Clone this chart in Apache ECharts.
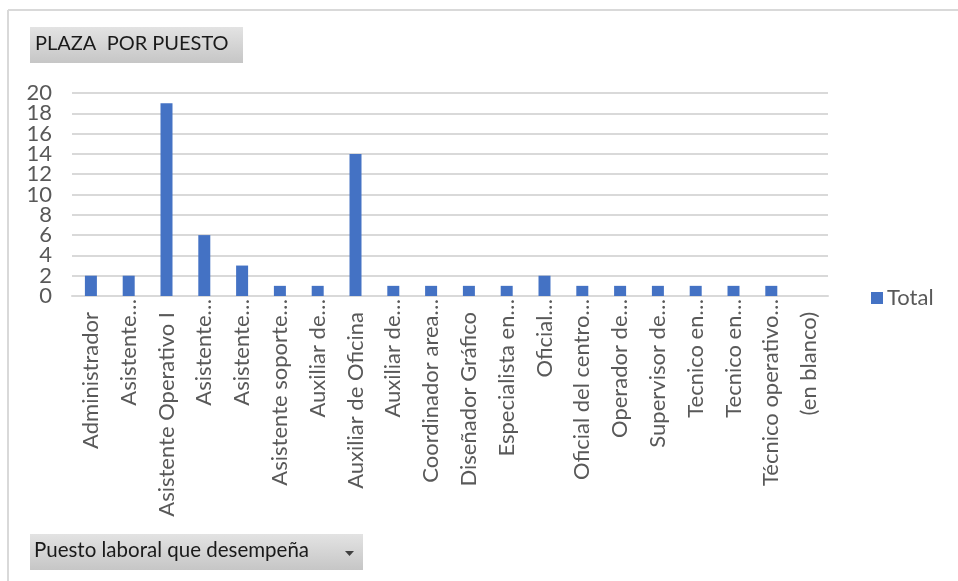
<!DOCTYPE html>
<html>
<head>
<meta charset="utf-8">
<script src="https://cdn.jsdelivr.net/npm/echarts@6/dist/echarts.min.js"></script>
<style>
  html, body { margin: 0; padding: 0; background: #ffffff; }
  #chart { width: 958px; height: 581px; }
</style>
</head>
<body>
<div id="chart"></div>
<script>
// Job positions (labels as shown, truncated where long)
const categories = [
  'Administrador', 'Asistente…', 'Asistente Operativo I', 'Asistente…', 'Asistente…',
  'Asistente soporte…', 'Auxiliar de…', 'Auxiliar de Oficina', 'Auxiliar de…', 'Coordinador area…',
  'Diseñador Gráfico', 'Especialista en…', 'Oficial…', 'Oficial del centro…', 'Operador de…',
  'Supervisor de…', 'Tecnico en…', 'Tecnico en…', 'Técnico operativo…', '(en blanco)'
];
// Number of positions per job
const totals = [2, 2, 19, 6, 3, 1, 1, 14, 1, 1, 1, 1, 2, 1, 1, 1, 1, 1, 1, 0];
const yTicks = { min: 0, max: 20, interval: 2 };

const FONT = 'Lato';
const TEXT = '#595959';

// Untruncated labels sit a little further from the axis than the ones ending in "…"
const categoryItems = categories.map(name => ({
  value: name,
  textStyle: { padding: name.endsWith('…') ? [0, 0, 0, 0] : [0, 13, 0, 0] }
}));

const buttonFill = new echarts.graphic.LinearGradient(0, 0, 0, 1, [
  { offset: 0, color: '#e3e3e3' },
  { offset: 1, color: '#c6c6c6' }
]);

// The tick labels are tall enough to touch each other, so they are split over two
// stacked value axes (multiples of 4 on one, the rest on the other) to keep all visible.
function valueAxis(showRemainder, withGrid) {
  return {
    type: 'value',
    position: 'left',
    offset: 0,
    min: yTicks.min, max: yTicks.max, interval: yTicks.interval,
    axisLine: { show: false },
    axisTick: { show: false },
    axisLabel: {
      margin: 20, fontFamily: FONT, fontSize: 22, lineHeight: 16, color: TEXT,
      showMinLabel: showRemainder === 0, showMaxLabel: showRemainder === 0,
      formatter: v => (v % 4 === showRemainder ? String(v) : '')
    },
    splitLine: { show: withGrid, lineStyle: { color: '#d9d9d9', width: 2 } }
  };
}

const chart = echarts.init(document.getElementById('chart'), null, { renderer: 'canvas' });
chart.setOption({
  animation: false,
  backgroundColor: '#ffffff',
  textStyle: { fontFamily: FONT },
  grid: { left: 72, right: 130, top: 93, bottom: 285, containLabel: false },
  legend: {
    left: 871, top: 287, padding: 0,
    icon: 'rect', itemWidth: 12, itemHeight: 12, itemGap: 6,
    textStyle: { fontFamily: FONT, fontSize: 22, color: TEXT, padding: [0, 0, 0, -1] },
    data: ['Total']
  },
  xAxis: {
    type: 'category',
    data: categoryItems,
    axisLine: { lineStyle: { color: '#d9d9d9', width: 2 } },
    axisTick: { show: false },
    axisLabel: {
      interval: 0, rotate: 90, margin: 3,
      fontFamily: FONT, fontSize: 22, color: TEXT
    }
  },
  yAxis: [valueAxis(0, true), valueAxis(2, false)],
  series: [{
    name: 'Total',
    type: 'bar',
    yAxisIndex: 0,
    data: totals,
    barWidth: 12,
    itemStyle: { color: '#4472c4' }
  }],
  graphic: [
    // chart frame edges
    { type: 'line', shape: { x1: 8, y1: 10, x2: 958, y2: 10 }, style: { stroke: '#d9d9d9', lineWidth: 2 }, silent: true },
    { type: 'line', shape: { x1: 8, y1: 10, x2: 8, y2: 581 }, style: { stroke: '#d9d9d9', lineWidth: 2 }, silent: true },
    // title field button
    {
      type: 'group', left: 30, top: 27,
      children: [
        { type: 'rect', shape: { x: 0, y: 0, width: 213, height: 36 }, style: { fill: buttonFill } },
        { type: 'text', left: 5, top: 7, style: { text: 'PLAZA  POR PUESTO', font: '20px Lato', fill: '#1a1a1a' } }
      ]
    },
    // row field button with dropdown arrow
    {
      type: 'group', left: 30, top: 534,
      children: [
        { type: 'rect', shape: { x: 0, y: 0, width: 333, height: 36 }, style: { fill: buttonFill } },
        { type: 'text', left: 4, top: 6, style: { text: 'Puesto laboral que desempeña', font: '20.5px Lato', fill: '#1a1a1a' } },
        { type: 'polygon', shape: { points: [[315, 17], [324, 17], [319.5, 22]] }, style: { fill: '#404040' } }
      ]
    }
  ]
});
</script>
</body>
</html>
